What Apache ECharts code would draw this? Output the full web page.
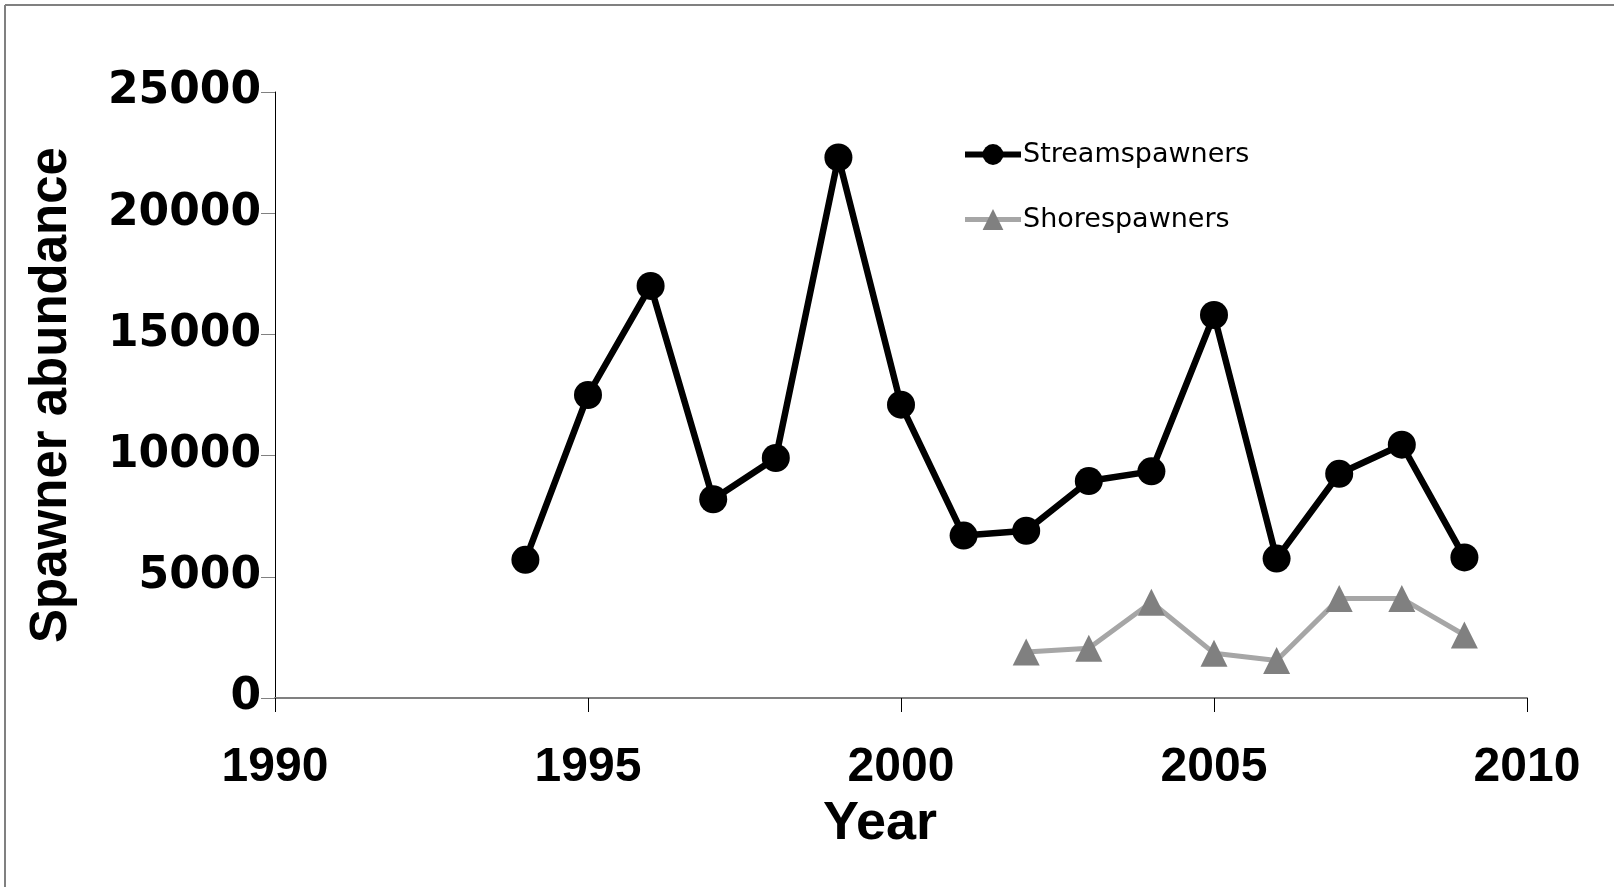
<!DOCTYPE html>
<html>
<head>
<meta charset="utf-8">
<script src="https://cdn.jsdelivr.net/npm/echarts@6/dist/echarts.min.js"></script>
<style>
html,body{margin:0;padding:0;background:#fff;}
#chart{width:1614px;height:887px;}
</style>
</head>
<body>
<div id="chart"></div>
<script>
// Data
const streamYears = [1994, 1995, 1996, 1997, 1998, 1999, 2000, 2001, 2002, 2003, 2004, 2005, 2006, 2007, 2008, 2009];
const streamValues = [5700, 12500, 17000, 8200, 9900, 22300, 12100, 6700, 6900, 8950, 9350, 15800, 5750, 9250, 10450, 5800];
const shoreYears = [2002, 2003, 2004, 2005, 2006, 2007, 2008, 2009];
const shoreValues = [1900, 2050, 3950, 1850, 1550, 4100, 4100, 2600];
const seriesNames = ['Streamspawners', 'Shorespawners'];
const xTitle = 'Year';
const yTitle = 'Spawner abundance';

const chart = echarts.init(document.getElementById('chart'), null, {renderer: 'canvas'});
const zip = (xs, ys) => xs.map((x, i) => [x, ys[i]]);
const plain = v => String(v);

chart.setOption({
  animation: false,
  backgroundColor: '#ffffff',
  grid: {left: 275, right: 87, top: 92, bottom: 189, containLabel: false},
  legend: {
    left: 957, top: 136, orient: 'vertical',
    itemWidth: 56, itemHeight: 26, itemGap: 38,
    textStyle: {fontFamily: 'DejaVu Sans', fontSize: 27, color: '#000', padding: [0,0,0,-3]},
    data: [
      {name: seriesNames[0], lineStyle: {width: 6, color: '#000'}},
      {name: seriesNames[1], lineStyle: {width: 5, color: '#a6a6a6'}}
    ]
  },
  xAxis: {
    type: 'value', min: 1990, max: 2010, interval: 5,
    axisLine: {show: true, lineStyle: {color: '#808080', width: 2}},
    axisTick: {show: true, length: 14, lineStyle: {color: '#000', width: 1}},
    splitLine: {show: false},
    axisLabel: {margin: 46, formatter: plain, fontFamily: "'Liberation Sans Narrow', 'Liberation Sans', Arial", fontWeight: 'bold', fontSize: 48, color: '#000'},
    name: xTitle, nameLocation: 'middle', nameGap: 98,
    nameTextStyle: {fontFamily: "'Liberation Sans', Arial", fontWeight: 'bold', fontSize: 54, color: '#000', padding: [0, 42, 0, 0]}
  },
  yAxis: {
    type: 'value', min: 0, max: 25000, interval: 5000,
    axisLine: {show: true, lineStyle: {color: '#000', width: 1}},
    axisTick: {show: true, length: 14, lineStyle: {color: '#808080', width: 1}},
    splitLine: {show: false},
    axisLabel: {margin: 14, padding: [10, 0, 0, 0], formatter: plain, fontFamily: "'DejaVu Sans'", fontWeight: 'bold', fontSize: 44, color: '#000'},
    name: yTitle, nameLocation: 'middle', nameRotate: 90, nameGap: 198,
    nameTextStyle: {fontFamily: "'Liberation Sans', Arial", fontWeight: 'bold', fontSize: 51, color: '#000'}
  },
  graphic: [
    {type: 'line', shape: {x1: 5, y1: 5, x2: 1614, y2: 5}, style: {stroke: '#808080', lineWidth: 2}, silent: true},
    {type: 'line', shape: {x1: 5, y1: 5, x2: 5, y2: 887}, style: {stroke: '#808080', lineWidth: 2}, silent: true}
  ],
  series: [
    {
      name: seriesNames[0], type: 'line', data: zip(streamYears, streamValues),
      symbol: 'circle', symbolSize: 28,
      lineStyle: {color: '#000', width: 6.5},
      itemStyle: {color: '#000'},
      z: 3
    },
    {
      name: seriesNames[1], type: 'line', data: zip(shoreYears, shoreValues),
      symbol: 'triangle', symbolSize: 27,
      lineStyle: {color: '#a6a6a6', width: 5},
      itemStyle: {color: '#808080'},
      z: 2
    }
  ]
});
</script>
</body>
</html>
